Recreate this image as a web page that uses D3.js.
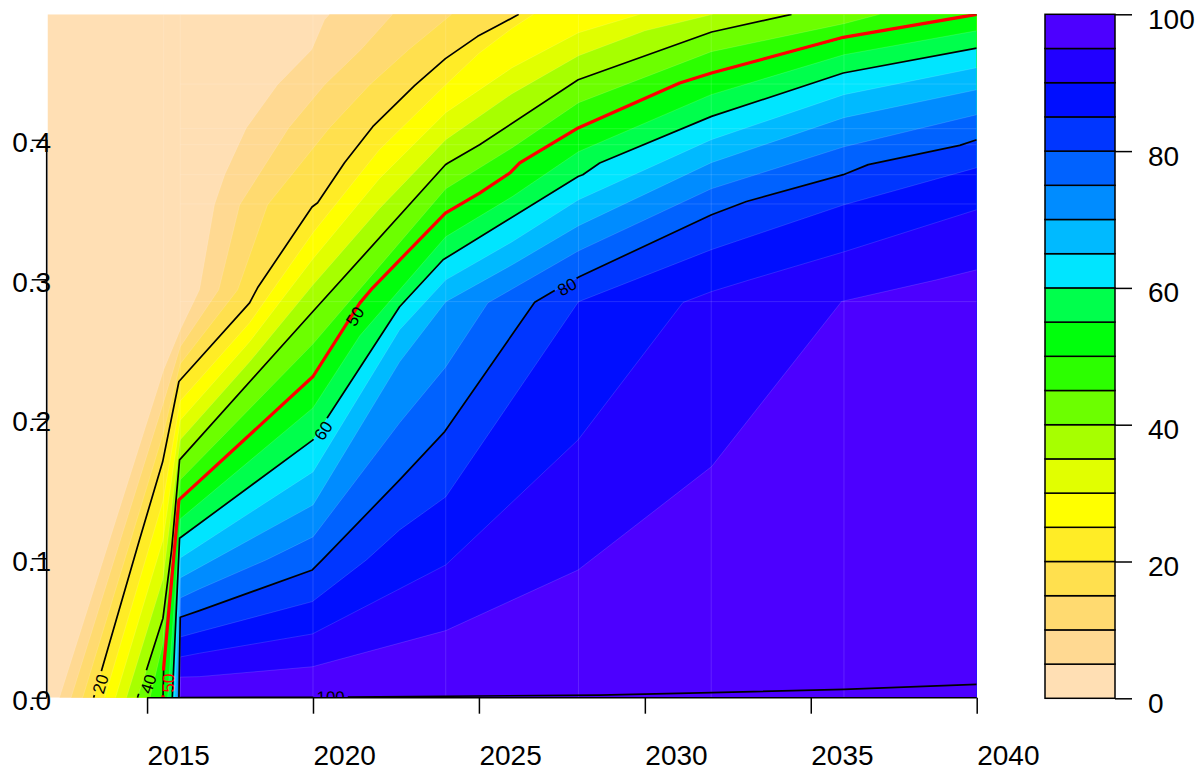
<!DOCTYPE html>
<html>
<head>
<meta charset="utf-8">
<script src="https://cdn.jsdelivr.net/npm/d3@7"></script>
<style>
  body { margin: 0; background: #ffffff; }
  svg { display: block; }
  text { font-family: "Liberation Sans", Arial, Helvetica, sans-serif; }
</style>
</head>
<body>
<svg id="chart" width="1202" height="772"></svg>
<script>
// ---- contour levels and their band colours (band i spans levels[i]..levels[i+1]) ----
const levels = d3.range(0, 101, 5);
const bandColors = [
  "#FFDFB4", "#FFD992", "#FFDA70", "#FFE04E", "#FFEC26",
  "#FFFF00", "#E1FF00", "#A7FF00", "#6CFF00", "#2CFF00",
  "#00FF0C", "#00FF4C", "#00E5FF", "#00BAFF", "#008CFF",
  "#0062FF", "#0036FF", "#000EFF", "#2100FF", "#4C00FF"
];

// ---- iso-lines of the surface: [year, share] from the bottom edge to the top / right edge ----
const level5  = [[2012.36,0],[2015.50,0.2351],[2016.00,0.2638],[2016.58,0.2925],[2017.03,0.3534],[2017.34,0.3750],[2017.99,0.4085],[2018.93,0.4395],[2019.96,0.4646],[2020.35,0.4862],[2020.50,0.49]];
const level10 = [[2012.71,0],[2015.50,0.2121],[2016.00,0.2516],[2017.16,0.2925],[2017.79,0.3534],[2019.27,0.4087],[2020.35,0.4395],[2021.44,0.4646],[2022.40,0.49]];
const level15 = [[2013.06,0],[2015.50,0.1906],[2016.00,0.2394],[2017.73,0.2925],[2018.63,0.3534],[2020.50,0.4087],[2021.71,0.4395],[2022.88,0.4646],[2024.18,0.49]];
const level20 = [[2013.39,0],[2014.77,0.1131],[2015.47,0.1691],[2015.96,0.2267],[2018.09,0.2831],[2018.33,0.2939],[2019.97,0.3518],[2020.14,0.3549],[2020.95,0.3836],[2021.80,0.4094],[2023.06,0.4388],[2023.99,0.4582],[2024.96,0.4742],[2025.63,0.4826],[2026.20,0.49]];
const level25 = [[2013.72,0],[2015.48,0.1411],[2016.00,0.2128],[2018.09,0.2688],[2020.00,0.3334],[2022.00,0.3929],[2024.00,0.4395],[2025.00,0.4620],[2026.00,0.4800],[2026.65,0.49]];
const level30 = [[2014.05,0],[2015.48,0.1131],[2016.00,0.1989],[2018.09,0.2552],[2020.00,0.3147],[2022.00,0.3721],[2024.00,0.4195],[2026.00,0.4517],[2028.00,0.4768],[2029.85,0.49]];
const level35 = [[2014.38,0],[2015.48,0.0852],[2016.00,0.1849],[2018.09,0.2408],[2020.00,0.2960],[2022.00,0.3506],[2024.00,0.4001],[2026.00,0.4331],[2028.00,0.4603],[2030.00,0.4782],[2032.05,0.49]];
const level40 = [[2014.71,0],[2014.99,0.0204],[2015.48,0.0570],[2015.74,0.1060],[2015.98,0.1705],[2019.99,0.2767],[2023.99,0.3821],[2024.07,0.3834],[2025.02,0.3965],[2027.99,0.4431],[2032.01,0.4773],[2034.42,0.49]];
const level45 = [[2015.09,0],[2015.48,0.0392],[2016.00,0.1562],[2020.00,0.2537],[2024.00,0.3649],[2026.00,0.3943],[2028.00,0.4266],[2032.00,0.4632],[2036.00,0.4833],[2037.08,0.49]];
const level50 = [[2015.48,0],[2015.50,0.0213],[2015.96,0.1418],[2020.00,0.2303],[2021.41,0.2829],[2021.80,0.2939],[2023.99,0.3475],[2025.02,0.3618],[2025.93,0.3762],[2026.23,0.3834],[2027.99,0.4085],[2031.05,0.4407],[2032.01,0.4479],[2035.98,0.4735],[2040.00,0.49]];
const level55 = [[2015.62,0],[2016.00,0.1282],[2020.00,0.2078],[2021.41,0.2595],[2024.00,0.3305],[2026.00,0.3592],[2028.00,0.3915],[2032.00,0.4324],[2036.00,0.4610],[2040.00,0.4782]];
const level60 = [[2015.76,0],[2015.98,0.1143],[2020.00,0.1849],[2022.61,0.2803],[2023.92,0.3140],[2025.63,0.3391],[2027.99,0.3737],[2028.13,0.3750],[2028.64,0.3834],[2032.01,0.4168],[2035.98,0.4479],[2040.00,0.4658]];
const level65 = [[2015.84,0],[2016.00,0.1002],[2020.00,0.1619],[2022.61,0.2638],[2024.00,0.2996],[2026.00,0.3269],[2028.00,0.3570],[2032.00,0.4001],[2036.00,0.4324],[2040.00,0.4517]];
const level70 = [[2015.89,0],[2016.00,0.0859],[2020.00,0.1382],[2022.61,0.2408],[2024.00,0.2839],[2026.00,0.3104],[2028.00,0.3384],[2032.00,0.3836],[2036.00,0.4159],[2040.00,0.4359]];
const level75 = [[2015.93,0],[2016.00,0.0715],[2016.58,0.0780],[2018.59,0.0988],[2020.00,0.1153],[2022.61,0.1971],[2024.00,0.2372],[2025.27,0.2831],[2028.00,0.3204],[2032.00,0.3649],[2036.00,0.3950],[2040.00,0.4180]];
const level80 = [[2015.96,0],[2016.00,0.0577],[2016.58,0.0624],[2019.98,0.0916],[2020.28,0.0988],[2022.61,0.1562],[2023.97,0.1908],[2026.68,0.2836],[2027.23,0.2912],[2028.04,0.3020],[2032.01,0.3463],[2033.06,0.3558],[2035.98,0.3750],[2036.73,0.3822],[2039.49,0.3960],[2040.00,0.4001]];
const level85 = [[2015.965,0],[2016.00,0.0435],[2016.58,0.0473],[2019.98,0.0689],[2021.61,0.0988],[2022.61,0.1203],[2024.00,0.1440],[2028.00,0.2839],[2032.00,0.3212],[2036.00,0.3534],[2040.00,0.3800]];
const level90 = [[2015.97,0],[2016.00,0.0292],[2016.58,0.0319],[2019.98,0.0457],[2024.00,0.0952],[2027.99,0.1849],[2031.15,0.2834],[2032.01,0.2912],[2033.16,0.2996],[2036.00,0.3197],[2040.00,0.3499]];
const level95 = [[2015.98,0],[2016.00,0.0148],[2016.58,0.0151],[2019.98,0.0222],[2024.00,0.0481],[2027.99,0.0916],[2032.01,0.1657],[2035.93,0.2841],[2038.79,0.2996],[2040.00,0.3068]];
const level100 = [[2016.00,0],[2019.98,0.0003],[2028.64,0.0019],[2032.01,0.0036],[2036.00,0.0059],[2040.00,0.0096]];

const isoLines = {
  5: level5, 10: level10, 15: level15, 20: level20, 25: level25, 30: level30, 35: level35,
  40: level40, 45: level45, 50: level50, 55: level55, 60: level60, 65: level65, 70: level70,
  75: level75, 80: level80, 85: level85, 90: level90, 95: level95, 100: level100
};

// levels drawn as labelled contour lines, and the highlighted one
const blackLevels = [20, 40, 50, 60, 80, 100];
const redLevel = 50;

// label anchors [level, text, year, share, colour]
const contourLabels = [
  [20, "20", 2013.61, 0.0098, "#000000"],
  [40, "40", 2015.05, 0.0098, "#000000"],
  [50, "50", 2015.65, 0.0105, "#FF0000"],
  [50, "50", 2021.28, 0.2733, "#000000"],
  [60, "60", 2020.32, 0.1913, "#000000"],
  [80, "80", 2027.66, 0.2943, "#000000"],
  [100, "100", 2020.53, 0.0000, "#000000"]
];

// cell edges of the underlying grid
const gridYears = [2015.5, 2016, 2020, 2024, 2028, 2032, 2036];
const gridShares = [0.284, 0.354, 0.375, 0.3965, 0.408, 0.44];

// axes
const xTicks = [2015, 2020, 2025, 2030, 2035, 2040];
const yTicks = [0, 0.1, 0.2, 0.3, 0.4];
const legendTicks = [0, 20, 40, 60, 80, 100];

const yearMin = 2012, yearMax = 2040, shareMax = 0.49;

const svg = d3.select("#chart");
const x = d3.scaleLinear().domain([yearMin, yearMax]).range([47.5, 976.7]);
const y = d3.scaleLinear().domain([0, shareMax]).range([697.7, 14.3]);
const line = d3.line().x(d => x(d[0])).y(d => y(d[1]));

const defs = svg.append("defs");
defs.append("clipPath").attr("id", "plotClip")
  .append("rect")
  .attr("x", x(yearMin)).attr("y", y(shareMax))
  .attr("width", x(yearMax) - x(yearMin)).attr("height", y(0) - y(shareMax));

const plot = svg.append("g").attr("clip-path", "url(#plotClip)");

// ---- filled bands: paint each "z >= level" region over the previous one ----
plot.append("rect")
  .attr("x", x(yearMin)).attr("y", y(shareMax))
  .attr("width", x(yearMax) - x(yearMin)).attr("height", y(0) - y(shareMax))
  .attr("fill", bandColors[0]);

for (let i = 1; i < bandColors.length; i++) {
  const pts = isoLines[levels[i]].slice();
  const last = pts[pts.length - 1];
  if (last[0] < yearMax) pts.push([yearMax, shareMax]);
  pts.push([yearMax, 0]);
  plot.append("path")
    .attr("d", line(pts) + "Z")
    .attr("fill", bandColors[i]);
}

// faint seams between neighbouring bands and along grid cells
const seams = plot.append("g").attr("fill", "none").attr("stroke", "#ffffff");
for (let i = 1; i < bandColors.length; i++) {
  seams.append("path").attr("d", line(isoLines[levels[i]]))
    .attr("stroke-opacity", 0.22).attr("stroke-width", 0.6);
}
gridYears.forEach(yr => {
  seams.append("line")
    .attr("x1", x(yr)).attr("x2", x(yr)).attr("y1", y(0)).attr("y2", y(shareMax))
    .attr("stroke-opacity", 0.13).attr("stroke-width", 1);
});
gridShares.forEach(s => {
  seams.append("line")
    .attr("x1", x(2016)).attr("x2", x(yearMax)).attr("y1", y(s)).attr("y2", y(s))
    .attr("stroke-opacity", 0.13).attr("stroke-width", 1);
});

// ---- label geometry: position and angle along the nearest contour segment ----
const labelSize = 17;
function labelGeom(lab) {
  const [lev, txt, yr, sh] = lab;
  const px = x(yr), py = y(sh);
  const pts = isoLines[lev].map(d => [x(d[0]), y(d[1])]);
  let best = null, bestD = Infinity;
  for (let k = 0; k < pts.length - 1; k++) {
    const [ax, ay] = pts[k], [bx, by] = pts[k + 1];
    const dx = bx - ax, dy = by - ay;
    const len2 = dx * dx + dy * dy || 1e-9;
    let t = ((px - ax) * dx + (py - ay) * dy) / len2;
    t = Math.max(0, Math.min(1, t));
    const cx = ax + t * dx, cy = ay + t * dy;
    const dd = (px - cx) ** 2 + (py - cy) ** 2;
    if (dd < bestD) { bestD = dd; best = [dx, dy]; }
  }
  let ang = Math.atan2(best[1], best[0]) * 180 / Math.PI;
  if (ang > 90) ang -= 180;
  if (ang <= -90) ang += 180;
  const w = txt.length * 0.556 * labelSize + 6;
  const h = labelSize * 0.95;
  return { px, py, ang, w, h, txt };
}
const geoms = contourLabels.map(labelGeom);

function addMask(id, which) {
  const m = defs.append("mask").attr("id", id)
    .attr("maskUnits", "userSpaceOnUse")
    .attr("x", 0).attr("y", 0).attr("width", 1202).attr("height", 772);
  m.append("rect").attr("x", 0).attr("y", 0).attr("width", 1202).attr("height", 772).attr("fill", "#fff");
  geoms.forEach((g, k) => {
    if (!which(contourLabels[k])) return;
    m.append("rect")
      .attr("x", -g.w / 2).attr("y", -g.h / 2).attr("width", g.w).attr("height", g.h)
      .attr("transform", `translate(${g.px},${g.py}) rotate(${g.ang})`)
      .attr("fill", "#000");
  });
}
addMask("gapBlack", lab => lab[4] === "#000000");
addMask("gapRed", lab => lab[4] === "#FF0000");

// ---- contour lines ----
const blackG = plot.append("g").attr("mask", "url(#gapBlack)")
  .attr("fill", "none").attr("stroke", "#000").attr("stroke-width", 1.7)
  .attr("stroke-linejoin", "round");
blackLevels.forEach(lev => blackG.append("path").attr("d", line(isoLines[lev])));

plot.append("g").attr("mask", "url(#gapRed)")
  .append("path").attr("d", line(isoLines[redLevel]))
  .attr("fill", "none").attr("stroke", "#FF0000").attr("stroke-width", 3.2)
  .attr("stroke-linejoin", "round");

// ---- contour labels ----
geoms.forEach((g, k) => {
  plot.append("text")
    .attr("transform", `translate(${g.px},${g.py}) rotate(${g.ang})`)
    .attr("text-anchor", "middle")
    .attr("dominant-baseline", "central")
    .attr("font-size", labelSize)
    .attr("fill", contourLabels[k][4])
    .text(g.txt);
});

// ---- x axis ----
const xAxis = svg.append("g").attr("transform", `translate(0,${y(0)})`)
  .call(d3.axisBottom(x).tickValues(xTicks).tickSize(16).tickFormat(d3.format("d")));
xAxis.select(".domain").remove();
xAxis.selectAll(".tick line").attr("stroke", "#000").attr("stroke-width", 1.5);
xAxis.selectAll(".tick text")
  .attr("font-family", "Liberation Sans, Arial, sans-serif")
  .attr("font-size", 28).attr("fill", "#000")
  .attr("text-anchor", "start").attr("y", 67).attr("dy", 0);
xAxis.append("line")
  .attr("x1", x(xTicks[0])).attr("x2", x(xTicks[xTicks.length - 1]))
  .attr("y1", 0).attr("y2", 0).attr("stroke", "#000").attr("stroke-width", 1.6);

// ---- y axis ----
const yAxis = svg.append("g").attr("transform", `translate(${x(yearMin) - 0.8},0)`)
  .call(d3.axisLeft(y).tickValues(yTicks).tickSize(15).tickFormat(d3.format(".1f")));
yAxis.select(".domain").remove();
yAxis.selectAll(".tick line").attr("stroke", "#000").attr("stroke-width", 1.5);
yAxis.selectAll(".tick text")
  .attr("font-family", "Liberation Sans, Arial, sans-serif")
  .attr("font-size", 28).attr("fill", "#000")
  .attr("text-anchor", "end").attr("x", 4.5).attr("y", 12).attr("dy", 0);
yAxis.append("line")
  .attr("x1", 0).attr("x2", 0)
  .attr("y1", y(yTicks[0])).attr("y2", y(yTicks[yTicks.length - 1]))
  .attr("stroke", "#000").attr("stroke-width", 1.6);

// ---- colour key ----
const keyX0 = 1045, keyX1 = 1115;
const ky = d3.scaleLinear().domain([0, 100]).range([698.3, 14.3]);
const key = svg.append("g");
bandColors.forEach((c, i) => {
  key.append("rect")
    .attr("x", keyX0).attr("y", ky(levels[i + 1]))
    .attr("width", keyX1 - keyX0).attr("height", ky(levels[i]) - ky(levels[i + 1]))
    .attr("fill", c).attr("stroke", "#000").attr("stroke-width", 1.5);
});
const keyAxis = svg.append("g").attr("transform", `translate(${keyX1},0)`)
  .call(d3.axisRight(ky).tickValues(legendTicks).tickSize(17).tickFormat(d3.format("d")));
keyAxis.select(".domain").remove();
keyAxis.selectAll(".tick line").attr("stroke", "#000").attr("stroke-width", 1.5);
keyAxis.selectAll(".tick text")
  .attr("font-family", "Liberation Sans, Arial, sans-serif")
  .attr("font-size", 28).attr("fill", "#000")
  .attr("text-anchor", "start").attr("x", 33).attr("y", 14).attr("dy", 0);
</script>
</body>
</html>
